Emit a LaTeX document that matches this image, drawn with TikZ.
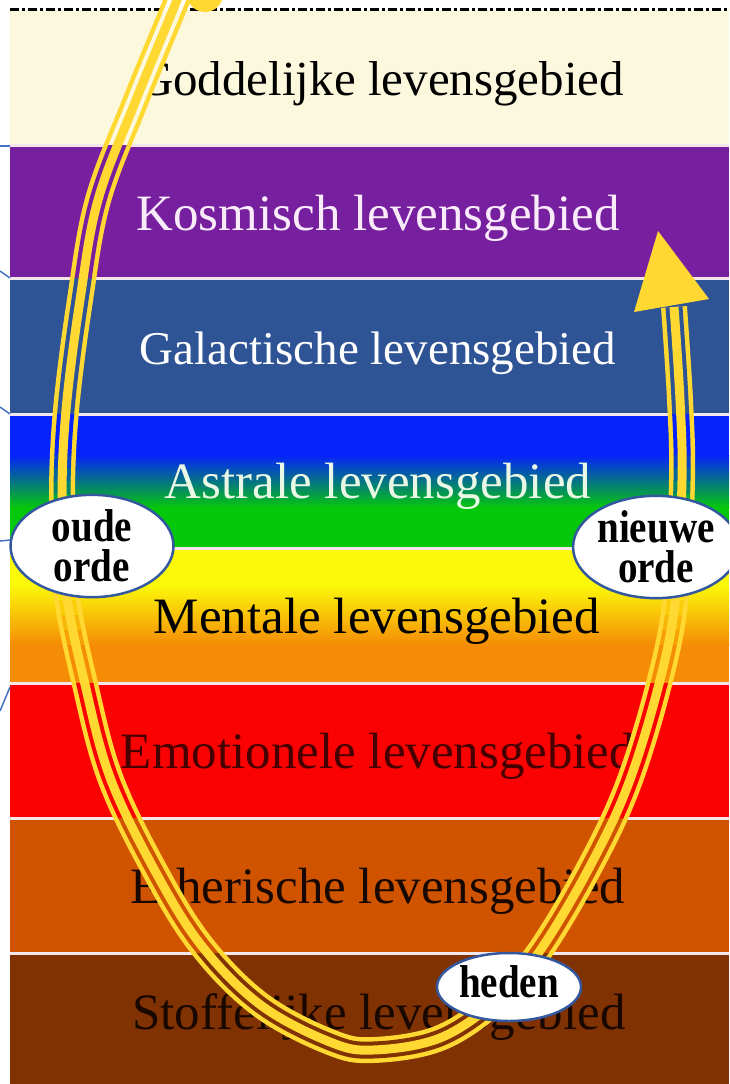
\documentclass[tikz,border=0pt]{standalone}
\usepackage{fontspec}
\setmainfont{Liberation Serif}
\newfontfamily\ordefont[FakeStretch=0.85]{Liberation Serif}
\usepackage{tikz}
\usetikzlibrary{shapes.geometric}

\definecolor{godcol}{RGB}{252,248,222}
\definecolor{kosmcol}{RGB}{118,32,160}
\definecolor{galcol}{RGB}{47,84,150}
\definecolor{astblue}{RGB}{5,35,250}
\definecolor{astgreen}{RGB}{5,200,10}
\definecolor{menyel}{RGB}{252,248,10}
\definecolor{menorg}{RGB}{245,140,5}
\definecolor{emocol}{RGB}{250,2,2}
\definecolor{ethcol}{RGB}{208,84,0}
\definecolor{stofcol}{RGB}{128,50,2}
\definecolor{loopyel}{RGB}{255,217,50}
\definecolor{ordeblue}{RGB}{52,88,158}
\definecolor{tickblue}{RGB}{70,114,196}
\definecolor{sepcol}{RGB}{245,230,235}
\definecolor{kosmtxt}{RGB}{250,235,250}
\definecolor{asttxt}{RGB}{232,248,228}
\definecolor{emotxt}{RGB}{70,0,0}
\definecolor{darktxt}{RGB}{25,8,0}

% centre line of the yellow loop
\newcommand{\looppath}{plot[smooth, tension=0.6] coordinates {(186,-25) (177,0) (136,100) (98,200) (80,300) (66,410) (62,500) (66,590) (84,680) (111,780) (160,880) (205,950) (262,1006) (330,1042) (373,1050) (440,1038) (497,1000) (539,952) (588,870) (628,785) (660,680) (676,595) (682,480) (680,400) (674,307)}}
% the gaps of the triple line show the band below
\newcommand{\gapstrip}[3]{%
  \begin{scope}
    \clip (0,#1) rectangle (729,#2);
    \draw[#3, line width=17pt] \looppath;
  \end{scope}}

\begin{document}
\begin{tikzpicture}[x=1pt, y=-1pt,
    lbl/.style={anchor=base, font=\fontsize{51}{60}\selectfont},
    orde/.style={ellipse, draw=ordeblue, line width=2.5pt, fill=white, inner sep=0pt, align=center, font=\ordefont\bfseries\fontsize{46}{40}\selectfont},
    sep/.style={sepcol, line width=3pt},
    tick/.style={tickblue, line width=1.5pt}]
  \useasboundingbox (0,0) rectangle (729,1084);
  \clip (0,0) rectangle (729,1084);
  \fill[white] (0,0) rectangle (729,1084);
  % bands
  \fill[godcol] (10,10) rectangle (729,145);
  \fill[kosmcol] (10,145) rectangle (729,278);
  \fill[galcol] (10,278) rectangle (729,414);
  \fill[astblue] (10,414) rectangle (729,455);
  \shade[top color=astblue, bottom color=astgreen] (10,455) rectangle (729,508);
  \fill[astgreen] (10,508) rectangle (729,548);
  \fill[menyel] (10,548) rectangle (729,585);
  \shade[top color=menyel, bottom color=menorg] (10,585) rectangle (729,645);
  \fill[menorg] (10,645) rectangle (729,683);
  \fill[emocol] (10,683) rectangle (729,818);
  \fill[ethcol] (10,818) rectangle (729,953);
  \fill[stofcol] (10,953) rectangle (729,1084);
  \draw[sep] (10,145) -- (729,145);
  \draw[sep] (10,278) -- (729,278);
  \draw[sep] (10,414) -- (729,414);
  \draw[sep] (10,548) -- (729,548);
  \draw[sep] (10,683) -- (729,683);
  \draw[sep] (10,818) -- (729,818);
  \draw[sep] (10,953) -- (729,953);
  \draw[black, line width=3pt, dash pattern=on 9pt off 3pt on 3pt off 3pt] (10,9) -- (729,9);
  % labels
  \node[lbl, text=black, font=\fontsize{49}{60}\selectfont] (god) at (381,95) {Goddelijke levensgebied};
  \node[lbl, text=kosmtxt] (kosm) at (378,230) {Kosmisch levensgebied};
  \node[lbl, text=white, font=\fontsize{47}{60}\selectfont] (gal) at (378,364) {Galactische levensgebied};
  \node[lbl, text=asttxt] (astr) at (378,498) {Astrale levensgebied};
  \node[lbl, text=black] (ment) at (377,633) {Mentale levensgebied};
  \node[lbl, text=emotxt] (emot) at (378,768) {Emotionele levensgebied};
  \node[lbl, text=darktxt] (ether) at (378,903) {Etherische levensgebied};
  \node[lbl, text=darktxt] (stof) at (379,1029) {Stoffelijke levensgebied};
  % triple yellow loop
  \draw[loopyel, line width=26pt] \looppath;
  \gapstrip{-40}{10}{white}
  \gapstrip{10}{145}{godcol}
  \gapstrip{145}{278}{kosmcol}
  \gapstrip{278}{414}{galcol}
  \gapstrip{414}{455}{astblue}
  \gapstrip{455}{468}{astblue!80!astgreen}
  \gapstrip{468}{481}{astblue!60!astgreen}
  \gapstrip{481}{494}{astblue!40!astgreen}
  \gapstrip{494}{508}{astblue!20!astgreen}
  \gapstrip{508}{548}{astgreen}
  \gapstrip{548}{585}{menyel}
  \gapstrip{585}{600}{menyel!80!menorg}
  \gapstrip{600}{615}{menyel!60!menorg}
  \gapstrip{615}{630}{menyel!40!menorg}
  \gapstrip{630}{645}{menyel!20!menorg}
  \gapstrip{645}{683}{menorg}
  \gapstrip{683}{818}{emocol}
  \gapstrip{818}{953}{ethcol}
  \gapstrip{953}{1084}{stofcol}
  \draw[loopyel, line width=9pt] \looppath;
  \fill[loopyel] (205,-6) circle [radius=18pt];
  \coordinate (tip) at (658,231);
  \coordinate (bl) at (634,312);
  \coordinate (br) at (709,299);
  \fill[loopyel] (tip) -- (bl) -- (br) -- cycle;
  % markers
  \node[orde, minimum width=163pt, minimum height=92pt] (oud) at (92,546) {oude\\orde};
  \node[orde, minimum width=148pt, minimum height=94pt] (nieuw) at (656,547) {nieuwe\\orde};
  \node[orde, minimum width=144pt, minimum height=68pt, text height=26pt, text depth=6pt] (heden) at (509,987) {heden};
  % ends of outside lines
  \draw[tick] (0,146) -- (10,146);
  \draw[tick] (0,271) -- (10,278);
  \draw[tick] (0,407) -- (10,414);
  \draw[tick] (0,541) -- (10,540);
  \draw[tick] (0,711) -- (10,687);
\end{tikzpicture}
\end{document}
